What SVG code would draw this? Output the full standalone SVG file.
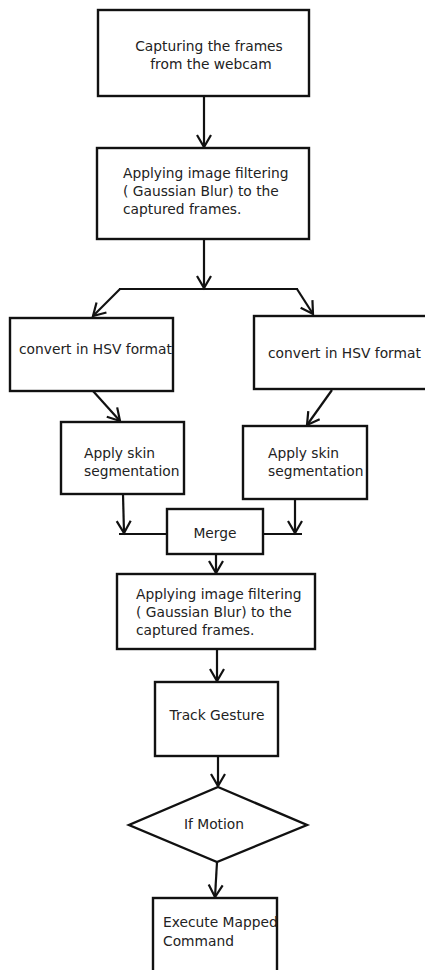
<svg xmlns="http://www.w3.org/2000/svg" width="425" height="970" viewBox="0 0 425 970">
<defs>
<marker id="arr" markerUnits="userSpaceOnUse" markerWidth="16" markerHeight="18" refX="13" refY="8" orient="auto" viewBox="0 0 16 18">
<path d="M1,1 L13,8 L1,15" fill="none" stroke="#111" stroke-width="2.2"/>
</marker>
<style>
.b{fill:#fff;stroke:#111;stroke-width:2.4}
.t{font-family:"DejaVu Sans",Verdana,sans-serif;font-size:13.8px;fill:#222}
.c{text-anchor:middle}
.l{fill:none;stroke:#111;stroke-width:2.2}
.a{fill:none;stroke:#111;stroke-width:2.2;marker-end:url(#arr)}
</style>
</defs>
<rect width="425" height="970" fill="#fff"/>
<g id="connectors">
<line class="a" x1="204" y1="96" x2="204" y2="147"/>
<line class="a" x1="204" y1="239" x2="204" y2="288"/>
<line class="l" x1="119" y1="289" x2="298" y2="289"/>
<line class="a" x1="120" y1="289" x2="93" y2="316"/>
<line class="a" x1="297" y1="289" x2="313" y2="314"/>
<line class="a" x1="93" y1="391" x2="120" y2="421"/>
<line class="a" x1="332" y1="390" x2="307" y2="425"/>
<line class="a" x1="123" y1="494" x2="124" y2="533"/>
<line class="l" x1="119" y1="534" x2="167" y2="534"/>
<line class="a" x1="295" y1="499" x2="295" y2="533"/>
<line class="l" x1="263" y1="534" x2="302" y2="534"/>
<line class="a" x1="216" y1="554" x2="216" y2="573"/>
<line class="a" x1="217" y1="649" x2="217" y2="681"/>
<line class="a" x1="218" y1="756" x2="218" y2="786"/>
<line class="a" x1="217" y1="862" x2="215" y2="897"/>
</g>
<g id="capture">
<rect class="b" x="98" y="10" width="211" height="86"/>
<text class="t c" x="209" y="51">Capturing the frames</text>
<text class="t c" x="211" y="69">from the webcam</text>
</g>
<g id="filter1">
<rect class="b" x="97" y="148" width="212" height="91"/>
<text class="t" x="123" y="178">Applying image filtering</text>
<text class="t" x="123" y="196">( Gaussian Blur) to the</text>
<text class="t" x="123" y="214">captured frames.</text>
</g>
<g id="hsvLeft">
<rect class="b" x="10" y="318" width="163" height="73"/>
<text class="t" x="19" y="354">convert in HSV format</text>
</g>
<g id="hsvRight">
<rect class="b" x="254" y="316" width="175" height="73"/>
<text class="t" x="268" y="358">convert in HSV format</text>
</g>
<g id="skinLeft">
<rect class="b" x="61" y="422" width="123" height="72"/>
<text class="t" x="84" y="458">Apply skin</text>
<text class="t" x="84" y="476">segmentation</text>
</g>
<g id="skinRight">
<rect class="b" x="243" y="426" width="124" height="73"/>
<text class="t" x="268" y="458">Apply skin</text>
<text class="t" x="268" y="476">segmentation</text>
</g>
<g id="merge">
<rect class="b" x="167" y="509" width="96" height="45"/>
<text class="t c" x="215" y="538">Merge</text>
</g>
<g id="filter2">
<rect class="b" x="117" y="574" width="198" height="75"/>
<text class="t" x="136" y="599">Applying image filtering</text>
<text class="t" x="136" y="617">( Gaussian Blur) to the</text>
<text class="t" x="136" y="635">captured frames.</text>
</g>
<g id="track">
<rect class="b" x="155" y="682" width="123" height="74"/>
<text class="t c" x="217" y="720">Track Gesture</text>
</g>
<g id="motion">
<polygon class="b" points="218,787 307,825 217,862 129,825"/>
<text class="t c" x="214" y="829">If Motion</text>
</g>
<g id="execute">
<rect class="b" x="153" y="898" width="124" height="80"/>
<text class="t" x="163" y="927">Execute Mapped</text>
<text class="t" x="163" y="946">Command</text>
</g>
</svg>
